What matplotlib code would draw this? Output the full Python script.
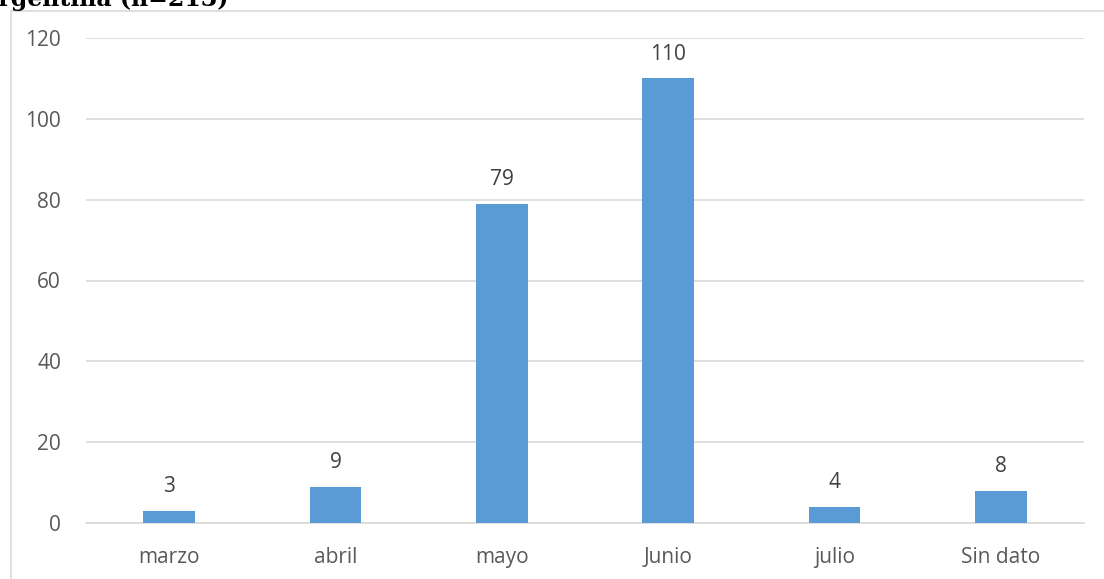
import matplotlib
matplotlib.use("Agg")
import matplotlib.pyplot as plt
from matplotlib.patches import Rectangle

categories = ["marzo", "abril", "mayo", "Junio", "julio", "Sin dato"]
values = [3, 9, 79, 110, 4, 8]
yticks = [0, 20, 40, 60, 80, 100, 120]

W, H = 1104, 579
fig = plt.figure(figsize=(W / 100, H / 100), dpi=100)
plt.rcParams["font.family"] = ["Open Sans", "DejaVu Sans"]

# outer chart frame
fig.patches.append(Rectangle((10.5 / W, -0.1), 1.2, (H - 10.5) / H + 0.1,
                             transform=fig.transFigure, fill=False,
                             edgecolor="#D9D9D9", linewidth=1.2))

# heading, partly cut by the top edge
fig.text(228 / W, 1 - 6 / H, "Argentina (n=213)", family="DejaVu Serif",
         fontweight="bold", fontsize=17, color="black", va="baseline",
         ha="right")

ax = fig.add_axes([86 / W, 1 - 523 / H, (1084 - 86) / W, (523 - 38) / H])
x = range(len(categories))
bars = ax.bar(x, values, width=0.31, color="#5B9BD5", zorder=3)
for xi, v in zip(x, values):
    ax.annotate(str(v), (xi, v), xytext=(0, 10), textcoords="offset points",
                ha="center", va="bottom", fontsize=15, color="#404040")

ax.set_xlim(-0.5, len(categories) - 0.5)
ax.set_ylim(0, 120)
ax.set_yticks(yticks)
ax.set_xticks(list(x))
ax.set_xticklabels(categories)
ax.tick_params(axis="both", length=0, labelsize=15, labelcolor="#595959")
ax.tick_params(axis="x", pad=17)
ax.tick_params(axis="y", pad=18)
ax.grid(axis="y", color="#D9D9D9", linewidth=1.2, zorder=0)
for s in ["left", "right", "top"]:
    ax.spines[s].set_visible(False)
ax.spines["bottom"].set_color("#D9D9D9")
ax.spines["bottom"].set_linewidth(1.2)

fig.savefig("out.png", dpi=100)
